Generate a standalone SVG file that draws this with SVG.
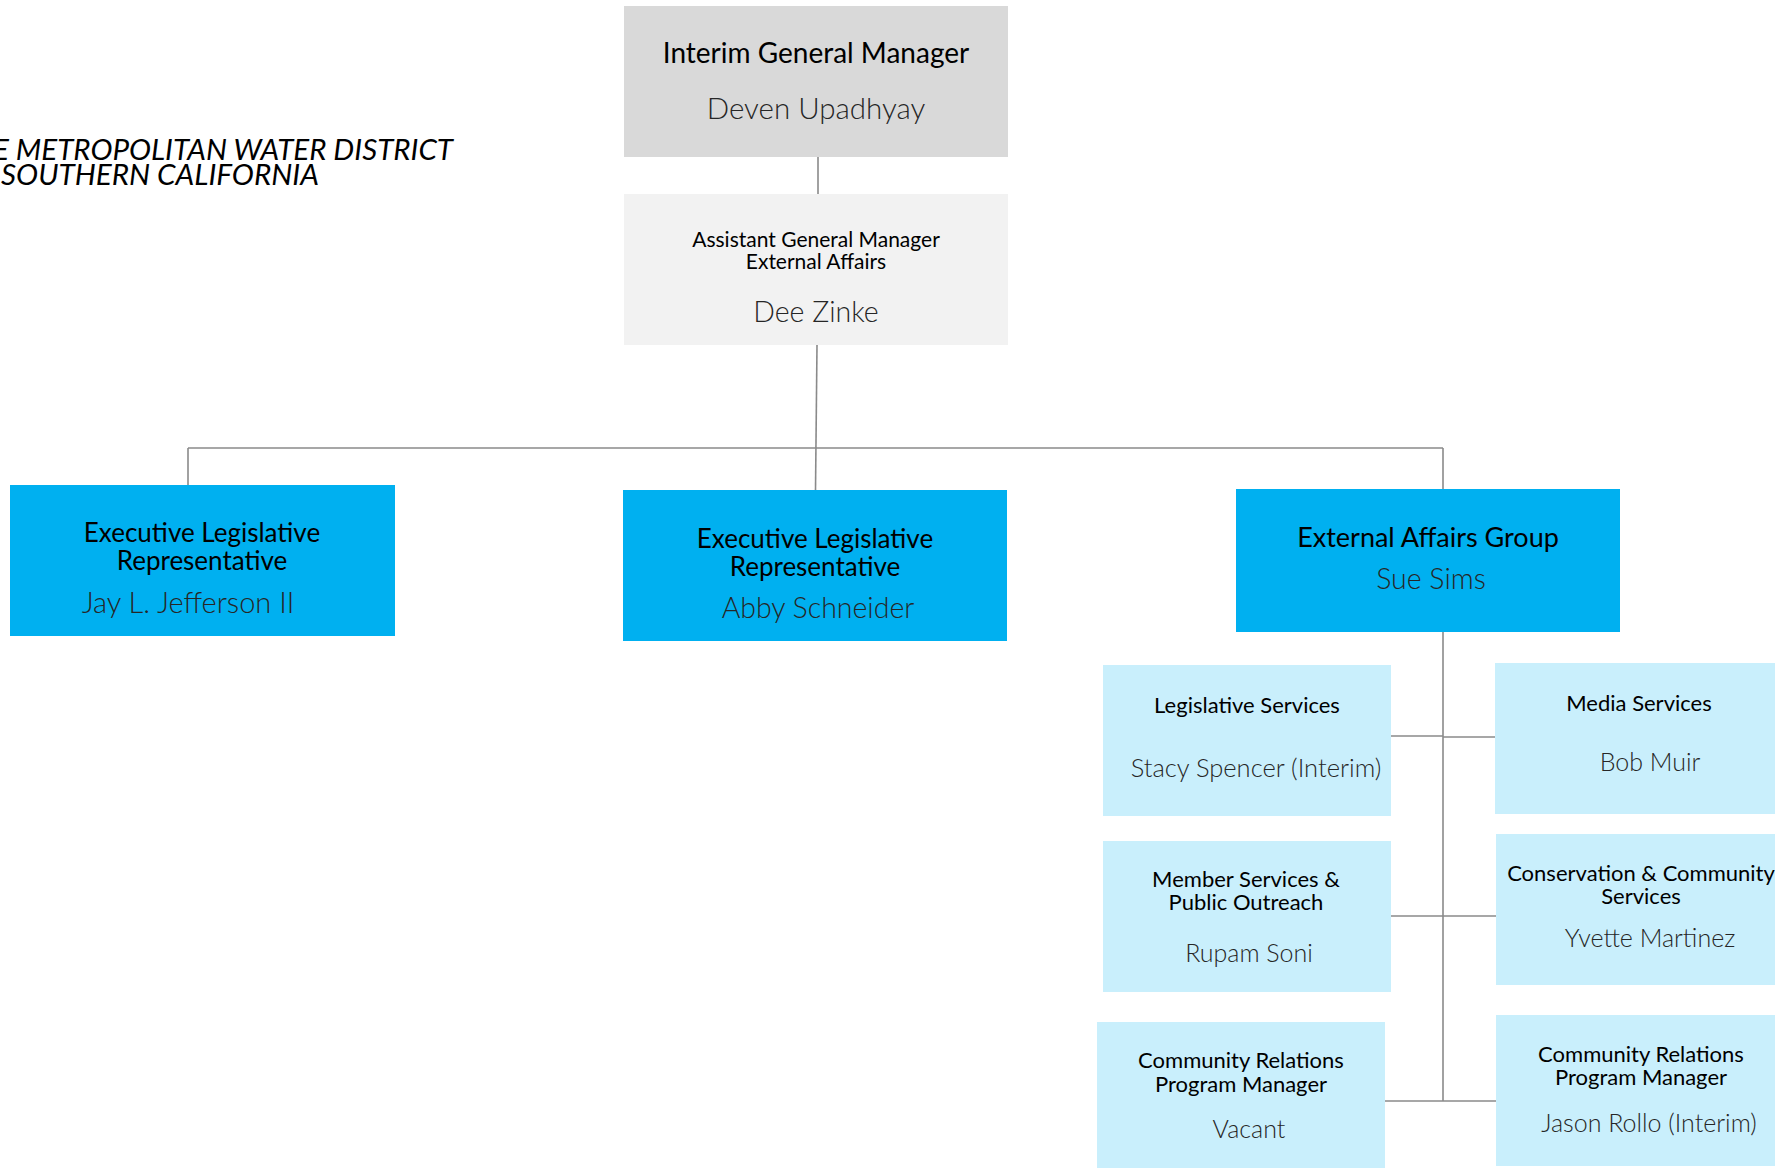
<svg xmlns="http://www.w3.org/2000/svg" width="1775" height="1168" viewBox="0 0 1775 1168">
<style>
text{font-family:Lato,"Noto Sans","Liberation Sans",sans-serif;text-anchor:middle;fill:#000}
.t{font-weight:400}
.n{font-weight:300;fill:#262626}
.gm{fill:#d9d9d9}
.agm{fill:#f2f2f2}
.blue{fill:#00b0f0}
.lb{fill:#c9effc}
.c path{stroke:#8a8a8a;stroke-width:1.6;fill:none}
.hdr{font-style:italic;text-anchor:start;font-size:28px}
</style>
<rect width="1775" height="1168" fill="#fff"/>
<g id="header">
<text class="hdr" x="-7" y="160" textLength="460" lengthAdjust="spacingAndGlyphs">E METROPOLITAN WATER DISTRICT</text>
<text class="hdr" x="1" y="185" textLength="318" lengthAdjust="spacingAndGlyphs">SOUTHERN CALIFORNIA</text>
</g>
<g class="c" id="connectors">
<path d="M818 157V194"/>
<path d="M817 345L815.5 490"/>
<path d="M188 448H1443M188 448V485M1443 448V489"/>
<path d="M1443 632V1101"/>
<path d="M1391 736H1443M1443 737H1495"/>
<path d="M1391 916H1496"/>
<path d="M1385 1101H1496"/>
</g>
<g id="gm">
<rect class="gm" x="624" y="6" width="384" height="151"/>
<text class="t" x="816" y="63" font-size="28">Interim General Manager</text>
<text class="n" x="816" y="119" font-size="29.5">Deven Upadhyay</text>
</g>
<g id="agm">
<rect class="agm" x="624" y="194" width="384" height="151"/>
<text class="t" x="816" y="247" font-size="21">Assistant General Manager</text>
<text class="t" x="816" y="269" font-size="21">External Affairs</text>
<text class="n" x="816" y="322" font-size="28.5">Dee Zinke</text>
</g>
<g id="elr1">
<rect class="blue" x="10" y="485" width="385" height="151"/>
<text class="t" x="202" y="542" font-size="26">Executive Legislative</text>
<text class="t" x="202" y="570" font-size="26">Representative</text>
<text class="n" x="188" y="613" font-size="29">Jay L. Jefferson II</text>
</g>
<g id="elr2">
<rect class="blue" x="623" y="490" width="384" height="151"/>
<text class="t" x="815" y="548" font-size="26">Executive Legislative</text>
<text class="t" x="815" y="576" font-size="26">Representative</text>
<text class="n" x="818" y="618" font-size="28.5">Abby Schneider</text>
</g>
<g id="eag">
<rect class="blue" x="1236" y="489" width="384" height="143"/>
<text class="t" x="1428" y="547" font-size="27">External Affairs Group</text>
<text class="n" x="1431" y="589" font-size="28.5">Sue Sims</text>
</g>
<g id="legis">
<rect class="lb" x="1103" y="665" width="288" height="151"/>
<text class="t" x="1247" y="713" font-size="22">Legislative Services</text>
<text class="n" x="1256" y="777" font-size="25.5">Stacy Spencer (Interim)</text>
</g>
<g id="media">
<rect class="lb" x="1495" y="663" width="290" height="151"/>
<text class="t" x="1639" y="711" font-size="22">Media Services</text>
<text class="n" x="1650" y="771" font-size="25">Bob Muir</text>
</g>
<g id="member">
<rect class="lb" x="1103" y="841" width="288" height="151"/>
<text class="t" x="1246" y="887" font-size="22">Member Services &amp;</text>
<text class="t" x="1246" y="910" font-size="22">Public Outreach</text>
<text class="n" x="1249" y="962" font-size="25">Rupam Soni</text>
</g>
<g id="conserv">
<rect class="lb" x="1496" y="834" width="290" height="151"/>
<text class="t" x="1641" y="881" font-size="22">Conservation &amp; Community</text>
<text class="t" x="1641" y="904" font-size="22">Services</text>
<text class="n" x="1650" y="947" font-size="25">Yvette Martinez</text>
</g>
<g id="crpm1">
<rect class="lb" x="1097" y="1022" width="288" height="150"/>
<text class="t" x="1241" y="1068" font-size="22">Community Relations</text>
<text class="t" x="1241" y="1092" font-size="22">Program Manager</text>
<text class="n" x="1249" y="1138" font-size="25">Vacant</text>
</g>
<g id="crpm2">
<rect class="lb" x="1496" y="1015" width="290" height="151"/>
<text class="t" x="1641" y="1062" font-size="22">Community Relations</text>
<text class="t" x="1641" y="1085" font-size="22">Program Manager</text>
<text class="n" x="1649" y="1132" font-size="25">Jason Rollo (Interim)</text>
</g>
</svg>
